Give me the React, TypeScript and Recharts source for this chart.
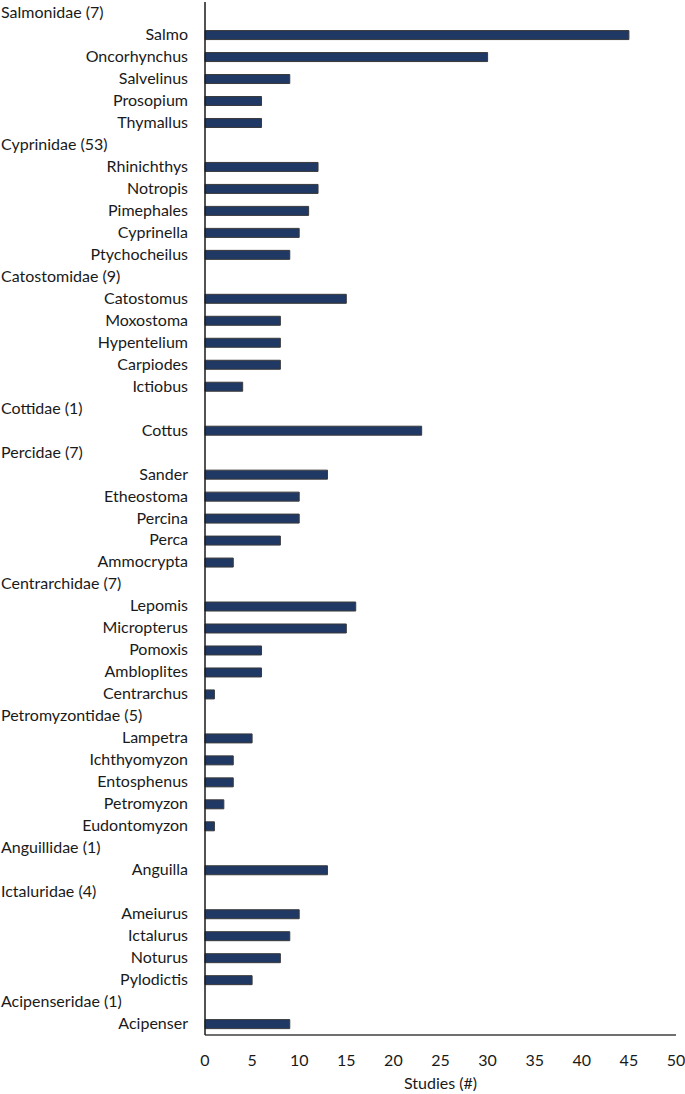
import { BarChart, Bar, XAxis, YAxis } from "recharts";

// family headers carry null (no bar), genera carry their study counts
const categories = [
  "Salmonidae (7)", "Salmo", "Oncorhynchus", "Salvelinus", "Prosopium", "Thymallus",
  "Cyprinidae (53)", "Rhinichthys", "Notropis", "Pimephales", "Cyprinella", "Ptychocheilus",
  "Catostomidae (9)", "Catostomus", "Moxostoma", "Hypentelium", "Carpiodes", "Ictiobus",
  "Cottidae (1)", "Cottus",
  "Percidae (7)", "Sander", "Etheostoma", "Percina", "Perca", "Ammocrypta",
  "Centrarchidae (7)", "Lepomis", "Micropterus", "Pomoxis", "Ambloplites", "Centrarchus",
  "Petromyzontidae (5)", "Lampetra", "Ichthyomyzon", "Entosphenus", "Petromyzon", "Eudontomyzon",
  "Anguillidae (1)", "Anguilla",
  "Ictaluridae (4)", "Ameiurus", "Ictalurus", "Noturus", "Pylodictis",
  "Acipenseridae (1)", "Acipenser",
];

const studies: (number | null)[] = [
  null, 45, 30, 9, 6, 6,
  null, 12, 12, 11, 10, 9,
  null, 15, 8, 8, 8, 4,
  null, 23,
  null, 13, 10, 10, 8, 3,
  null, 16, 15, 6, 6, 1,
  null, 5, 3, 3, 2, 1,
  null, 13,
  null, 10, 9, 8, 5,
  null, 9,
];

const xTicks = [0, 5, 10, 15, 20, 25, 30, 35, 40, 45, 50];

const rows = categories.map((name, i) => ({ name, studies: studies[i] }));

const FONT = "Lato, 'Open Sans', sans-serif";

function CatTick(props: any) {
  const { y, payload } = props;
  const label: string = payload.value;
  const isFamily = label.includes("(");
  return (
    <text
      x={isFamily ? 1 : 188}
      y={y}
      dy={5}
      textAnchor={isFamily ? "start" : "end"}
      fontSize={16}
      fontFamily={FONT}
      fill="#1a1a1a"
    >
      {label}
    </text>
  );
}

export default function App() {
  return (
    <div style={{ position: "absolute", left: 0, top: 0, background: "#fff" }}>
      <BarChart
        width={685}
        height={1094}
        data={rows}
        layout="vertical"
        margin={{ top: 2, right: 9, bottom: 0, left: 0 }}
        barCategoryGap="30%"
      >
        <XAxis
          type="number"
          domain={[0, 50]}
          ticks={xTicks}
          tickLine={false}
          axisLine={{ stroke: "#404040", strokeWidth: 1.5 }}
          tick={{ fontSize: 16, fontFamily: FONT, fill: "#1a1a1a" }}
          tickMargin={14}
          height={59}
          label={{
            value: "Studies (#)",
            position: "insideBottom",
            offset: 5,
            fontSize: 16,
            fontFamily: FONT,
            fill: "#1a1a1a",
          }}
        />
        <YAxis
          type="category"
          dataKey="name"
          width={205}
          interval={0}
          tickLine={false}
          axisLine={{ stroke: "#1a1a1a", strokeWidth: 1.5 }}
          tick={<CatTick />}
        />
        <Bar
          dataKey="studies"
          fill="#203864"
          stroke="#3a3a3a"
          strokeWidth={1}
          isAnimationActive={false}
        />
      </BarChart>
    </div>
  );
}
